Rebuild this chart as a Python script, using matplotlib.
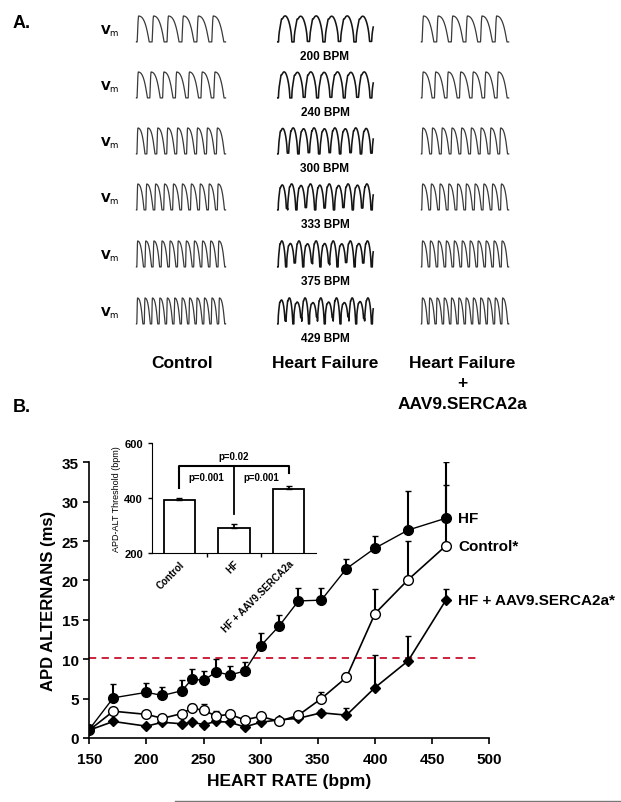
import numpy as np
import matplotlib
matplotlib.use("Agg")
import matplotlib.pyplot as plt
from matplotlib.lines import Line2D

plt.rcParams['font.family'] = ['Liberation Sans', 'DejaVu Sans']

W, H = 621, 803

# ---- panel A data ----
bpm_labels = ["200", "240", "300", "333", "375", "429"]
beats = [6, 7, 9, 10, 11, 12]
col_names = ["Control", "Heart Failure", "Heart Failure\n+\nAAV9.SERCA2a"]
# per-beat relative amplitude of the HF traces (alternans)
hf_amps = [
    [1.0, 0.97, 1.0, 0.97, 1.0, 0.97, 1.0],
    [1.0, 0.96, 1.0, 0.96, 1.0, 0.96, 1.0, 0.96],
    [0.95, 1.0, 0.92, 1.0, 0.92, 1.0, 0.92, 1.0, 0.95, 1.0],
    [0.9, 1.0, 0.85, 1.0, 0.88, 1.0, 0.85, 1.0, 0.88, 1.0, 0.9],
    [1.0, 0.75, 1.0, 0.72, 1.0, 0.75, 1.0, 0.72, 1.0, 0.75, 1.0, 0.8],
    [0.8, 1.0, 0.6, 1.0, 0.55, 1.0, 0.6, 1.0, 0.55, 1.0, 0.65, 1.0, 0.8],
]

# ---- panel B data ----
hr = [150, 171, 200, 214, 231, 240, 250, 261, 273, 286, 300, 316, 333, 353, 375, 400, 429, 462]
hf = [1.1, 5.1, 5.8, 5.4, 6.0, 7.5, 7.3, 8.4, 8.0, 8.5, 11.7, 14.2, 17.4, 17.5, 21.5, 24.1, 26.4, 27.9]
hf_err = [0, 1.8, 1.2, 1.1, 1.3, 1.3, 1.2, 1.6, 1.2, 1.2, 1.6, 1.4, 1.7, 1.6, 1.2, 1.6, 5.0, 7.1]
ctrl = [1.0, 3.4, 3.0, 2.5, 3.1, 3.8, 3.5, 2.8, 3.0, 2.3, 2.75, 2.1, 2.9, 5.0, 7.7, 15.8, 20.1, 24.4]
ctrl_err = [0, 0.3, 0.2, 0.2, 0.3, 0.5, 0.8, 0.6, 0.3, 0.2, 0.3, 0.2, 0.3, 0.8, 0.6, 3.1, 4.9, 7.7]
aav = [1.0, 2.1, 1.5, 2.0, 1.8, 2.0, 1.7, 2.1, 2.0, 1.4, 2.0, 2.3, 2.5, 3.2, 2.9, 6.4, 9.8, 17.5]
aav_err = [0, 0.2, 0.2, 0.2, 0.2, 0.2, 0.2, 0.2, 0.2, 0.2, 0.2, 0.2, 0.2, 0.4, 0.85, 4.1, 3.2, 1.4]
thr_line = 10.2

groups = ["Control", "HF", "HF + AAV9.SERCA2a"]
thr = [394.5, 291, 431]
thr_err = [4.5, 13.6, 12]


def box(x0, y0, x1, y1):
    return [x0 / W, 1 - y1 / H, (x1 - x0) / W, (y1 - y0) / H]


def ftext(x, y, s, **kw):
    fig.text(x / W, 1 - y / H, s, **kw)


def ap_trace(n, apd, rise=0.05, expo=5.0):
    # control / treated: fast upstroke, rounded plateau, repolarisation
    t = np.linspace(-0.05, n - 0.08, 900)
    v = np.zeros_like(t)
    for i, tt in enumerate(t):
        k = int(np.floor(tt))
        ph = tt - k
        if k < 0:
            continue
        x = min(1.0, ph / rise)
        up = np.sin(0.5 * np.pi * x)
        v[i] = up * max(0.0, 1 - (ph / apd) ** expo)
    return t, v


def hf_trace(n, apd, amps, lift=0.6):
    # heart failure: rounder beats with a small notch, alternating size
    t = np.linspace(-0.05, n + 0.1, 900)
    v = np.zeros_like(t)
    for i, tt in enumerate(t):
        k = int(np.floor(tt))
        ph = tt - k
        if k < 0:
            continue
        a = amps[k % len(amps)]
        val = 0.0
        if ph < apd:
            val = np.sin(np.pi * ph / apd) ** 0.55
            val += 0.09 * np.exp(-((ph - 0.22 * apd) / 0.04) ** 2)
        v[i] = a * val + (1 - a) * lift
    return t, v


fig = plt.figure(figsize=(W / 100, H / 100), dpi=100)

# ---- panel A ----
ftext(22, 23, "A.", fontsize=13, fontweight='bold', ha='center', va='center')
col_x = [(132, 230), (273, 378), (417, 513)]
row_top = [13, 69, 125, 181, 238, 295]
for r in range(6):
    y0 = row_top[r]
    ftext(110, y0 + 18, r'$\mathbf{V}_{\mathrm{m}}$', fontsize=9, ha='center', va='center')
    for c in range(3):
        ax = fig.add_axes(box(col_x[c][0], y0, col_x[c][1], y0 + 32))
        if c == 1:
            t, v = hf_trace(beats[r], 0.85, hf_amps[r])
            ax.plot(t, v, color='#151515', lw=1.15)
        else:
            t, v = ap_trace(beats[r], 0.8, rise=0.1, expo=3.0)
            ax.plot(t, v, color='#3a3a3a', lw=0.9)
        ax.set_ylim(-0.08, 1.15)
        ax.axis('off')
    ftext(325, y0 + 44, bpm_labels[r] + " BPM", fontsize=8.5, fontweight='bold',
          ha='center', va='center')

ftext(182, 363, col_names[0], fontsize=12.5, fontweight='bold', ha='center', va='center')
ftext(325, 363, col_names[1], fontsize=12.5, fontweight='bold', ha='center', va='center')
ftext(462, 363, "Heart Failure", fontsize=12.5, fontweight='bold', ha='center', va='center')
ftext(462, 384, "+", fontsize=12.5, fontweight='bold', ha='center', va='center')
ftext(462, 405, "AAV9.SERCA2a", fontsize=12.5, fontweight='bold', ha='center', va='center')

# ---- panel B ----
ftext(22, 408, "B.", fontsize=13, fontweight='bold', ha='center', va='center')
ax = fig.add_axes(box(89.3, 463.3, 489.3, 739))
ax.axhline(thr_line, xmin=0, xmax=(491 - 150) / 350, color='#C8102E', ls=(0, (4, 3)), lw=1.3)

ax.errorbar(hr, aav, yerr=[np.zeros(len(aav)), aav_err], fmt='-D', color='black',
            mfc='black', ms=5, lw=1.2, elinewidth=1.5, capsize=2, zorder=3)
ax.errorbar(hr, ctrl, yerr=[np.zeros(len(ctrl)), ctrl_err], fmt='-o', color='black',
            mfc='white', mec='black', ms=7, lw=1.2, elinewidth=1.5, capsize=2, zorder=4)
ax.errorbar(hr, hf, yerr=[np.zeros(len(hf)), hf_err], fmt='-o', color='black',
            mfc='black', ms=7, lw=1.0, elinewidth=1.5, capsize=2, zorder=5)

ax.set_xlim(150, 500)
ax.set_ylim(0, 35)
ax.set_xticks(range(150, 501, 50))
ax.set_yticks(range(0, 36, 5))
for s in ['top', 'right']:
    ax.spines[s].set_visible(False)
for s in ['left', 'bottom']:
    ax.spines[s].set_linewidth(1.2)
ax.tick_params(direction='out', length=4, width=1.2, labelsize=11)
ax.tick_params(axis='x', pad=6)
for lab in ax.get_xticklabels() + ax.get_yticklabels():
    lab.set_fontweight('bold')
ax.set_xlabel("HEART RATE (bpm)", fontsize=12.5, fontweight='bold', labelpad=5)
ax.set_ylabel("APD ALTERNANS (ms)", fontsize=12, fontweight='bold', labelpad=4)

ax.text(473, hf[-1], "HF", fontsize=11, fontweight='bold', va='center')
ax.text(473, ctrl[-1], "Control*", fontsize=11, fontweight='bold', va='center')
ax.text(473, aav[-1], "HF + AAV9.SERCA2a*", fontsize=11, fontweight='bold', va='center')

# ---- inset ----
ai = fig.add_axes(box(152, 444, 316, 554))
xs = np.arange(3)
ai.bar(xs, thr, width=0.57, bottom=0, color='white', edgecolor='black', lw=1.3)
ai.errorbar(xs, thr, yerr=[np.zeros(3), thr_err], fmt='none', ecolor='black',
            elinewidth=1.3, capsize=2)
ai.set_xlim(-0.5, 2.5)
ai.set_ylim(200, 600)
ai.set_yticks([200, 400, 600])
ai.set_xticks(xs)
ai.set_xticklabels(groups, rotation=45, ha='right', rotation_mode='anchor', fontsize=7,
                   fontweight='bold')
ai.set_xticks([0.5, 1.5], minor=True)
ai.tick_params(axis='x', which='major', length=0, pad=4)
ai.tick_params(axis='x', which='minor', length=3, width=1)
ai.tick_params(axis='y', direction='out', length=3, width=1, labelsize=8)
for lab in ai.get_yticklabels():
    lab.set_fontweight('bold')
for s in ['top', 'right']:
    ai.spines[s].set_visible(False)
ai.set_ylabel("APD-ALT Threshold (bpm)", fontsize=6.5, labelpad=2)

br = 518
ai.plot([0, 0, 2, 2], [436, br, br, 492], color='black', lw=1.5)
ai.plot([1, 1], [br, 342], color='black', lw=1.3)
ai.text(1, 552, "p=0.02", fontsize=7, fontweight='bold', ha='center', va='center')
ai.text(0.5, 476, "p=0.001", fontsize=7, fontweight='bold', ha='center', va='center')
ai.text(1.5, 476, "p=0.001", fontsize=7, fontweight='bold', ha='center', va='center')

fig.add_artist(Line2D([175 / W, 1], [1.5 / H, 1.5 / H], color='#777777', lw=1))

fig.savefig("out.png", dpi=100)
